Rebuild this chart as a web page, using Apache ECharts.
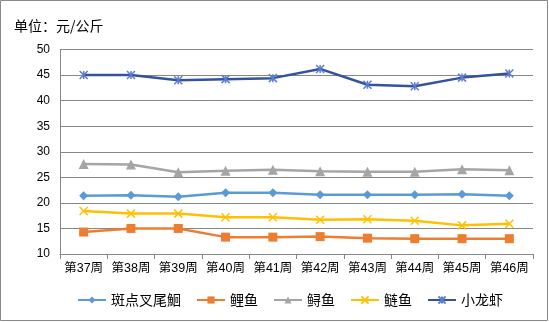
<!DOCTYPE html>
<html>
<head>
<meta charset="utf-8">
<script src="https://cdn.jsdelivr.net/npm/echarts@6/dist/echarts.min.js"></script>
<style>
  html, body { margin: 0; padding: 0; background: #fff; }
  #chart { width: 549px; height: 322px; }
</style>
</head>
<body>
<div id="chart"></div>
<script>
// Weekly wholesale prices, yuan per kilogram
const weeks = ['第37周', '第38周', '第39周', '第40周', '第41周', '第42周', '第43周', '第44周', '第45周', '第46周'];
const channelCatfish = [21.4, 21.5, 21.2, 22.0, 22.0, 21.6, 21.6, 21.6, 21.7, 21.4];
const carp = [14.3, 15.0, 15.0, 13.3, 13.3, 13.4, 13.1, 13.0, 13.0, 13.0];
const sturgeon = [27.6, 27.5, 26.0, 26.3, 26.5, 26.2, 26.1, 26.1, 26.6, 26.4];
const silverCarp = [18.4, 17.9, 17.9, 17.2, 17.2, 16.7, 16.8, 16.5, 15.6, 15.9];
const crayfish = [45.0, 45.0, 44.0, 44.2, 44.4, 46.2, 43.1, 42.8, 44.5, 45.3];
const seriesNames = ['斑点叉尾鮰', '鲤鱼', '鲟鱼', '鲢鱼', '小龙虾'];
const yTicks = { min: 10, max: 50, step: 5 };

const cjkFont = '"Noto Sans CJK SC", "Liberation Sans", sans-serif';
const numFont = '"Liberation Sans", "Noto Sans CJK SC", sans-serif';

const crossPath = 'path://M0,0L10,10M10,0L0,10';
const starPath = 'path://M0,0L10,10M10,0L0,10M5,0L5,10';

function lineSeries(name, data, lineColor, symbol, size, markerColor, stroked) {
  return {
    name: name,
    type: 'line',
    data: data,
    symbol: symbol,
    symbolSize: size,
    showAllSymbol: true,
    lineStyle: { color: lineColor, width: 2.5 },
    itemStyle: stroked
      ? { color: markerColor, borderColor: markerColor, borderWidth: 1.5 }
      : { color: markerColor, borderWidth: 0 },
    emphasis: { disabled: true },
    z: 3
  };
}

const chart = echarts.init(document.getElementById('chart'), null, { renderer: 'canvas' });
chart.setOption({
  animation: false,
  backgroundColor: '#ffffff',
  graphic: [{
    type: 'rect',
    shape: { x: 0.5, y: 0.5, width: 547, height: 320 },
    style: { fill: 'none', stroke: '#898989', lineWidth: 1 },
    silent: true
  }],
  title: {
    text: '单位：元/公斤',
    left: 9,
    top: 14,
    textStyle: { fontFamily: cjkFont, fontSize: 14, fontWeight: 'normal', color: '#000' }
  },
  grid: { left: 60, right: 16, top: 49.5, bottom: 68, containLabel: false },
  legend: {
    left: 72,
    top: 288,
    itemWidth: 28,
    itemHeight: 9,
    itemGap: 15,
    textStyle: { fontFamily: cjkFont, fontSize: 14, color: '#000' },
    data: seriesNames
  },
  xAxis: {
    type: 'category',
    data: weeks,
    boundaryGap: true,
    axisLine: { lineStyle: { color: '#878787', width: 1 } },
    axisTick: { show: true, length: 5, lineStyle: { color: '#878787' } },
    axisLabel: { fontFamily: numFont, fontSize: 12.5, color: '#000', margin: 8, interval: 0 }
  },
  yAxis: {
    type: 'value',
    min: yTicks.min,
    max: yTicks.max,
    interval: yTicks.step,
    axisLine: { show: true, lineStyle: { color: '#878787', width: 1 } },
    axisTick: { show: false },
    splitLine: { lineStyle: { color: '#878787', width: 1 } },
    axisLabel: { fontFamily: numFont, fontSize: 12, color: '#000', margin: 10 }
  },
  series: [
    lineSeries(seriesNames[0], channelCatfish, '#5B9BD5', 'diamond', 9, '#5B9BD5', false),
    lineSeries(seriesNames[1], carp, '#ED7D31', 'rect', 9, '#ED7D31', false),
    lineSeries(seriesNames[2], sturgeon, '#A5A5A5', 'triangle', 10, '#A5A5A5', false),
    lineSeries(seriesNames[3], silverCarp, '#FFC000', crossPath, 8, '#FFC000', true),
    lineSeries(seriesNames[4], crayfish, '#34539C', starPath, 8, '#5B7FD0', true)
  ]
});
</script>
</body>
</html>
